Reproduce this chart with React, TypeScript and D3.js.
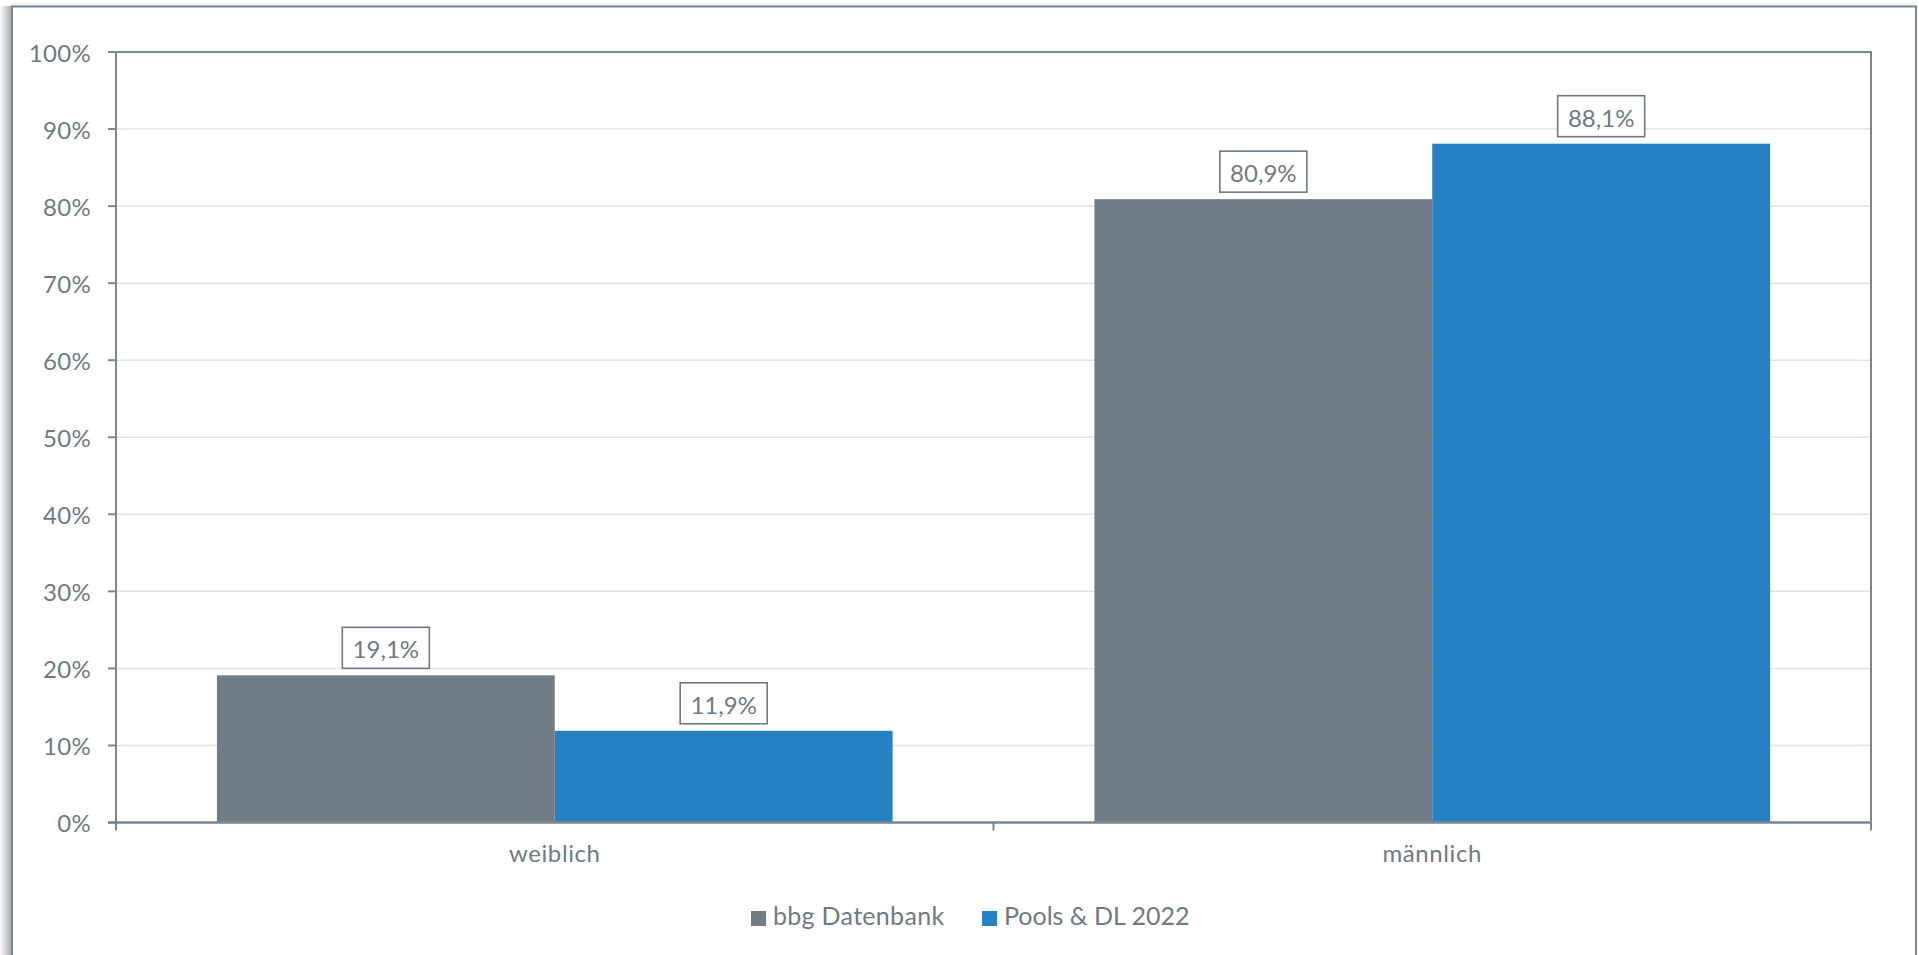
import React from "react";
import * as d3 from "d3";

const categories = ["weiblich", "männlich"];
const seriesNames = ["bbg Datenbank", "Pools & DL 2022"];
const seriesColors = ["#717d85", "#2580c4"];
const bbgValues = [19.1, 80.9];
const poolsValues = [11.9, 88.1];
const yTicks = [0, 10, 20, 30, 40, 50, 60, 70, 80, 90, 100];

const W = 1919;
const H = 955;
const PLOT = { left: 116, right: 1871, top: 52, bottom: 822.5 };
const TEXT = "#6e7b84";
const AXIS = "#7b878f";
const GRID = "#dfe5e6";
const FONT = "Lato, 'Open Sans', sans-serif";

const fmt = (v: number) => v.toFixed(1).replace(".", ",") + "%";

export default function App() {
  const x0 = d3
    .scaleBand<string>()
    .domain(categories)
    .range([PLOT.left, PLOT.right])
    .paddingInner(0.23)
    .paddingOuter(0.115);
  const x1 = d3
    .scaleBand<string>()
    .domain(seriesNames)
    .range([0, x0.bandwidth()]);
  const y = d3.scaleLinear().domain([0, 100]).range([PLOT.bottom, PLOT.top]);

  const series = [bbgValues, poolsValues];
  const step = x0.step();
  const xTickPositions = [PLOT.left, PLOT.left + step, PLOT.right];

  return (
    <svg
      width={W}
      height={H}
      style={{ position: "absolute", left: 0, top: 0, display: "block", background: "#fff" }}
      fontFamily={FONT}
    >
      <defs>
        <linearGradient id="shadowL" x1="0" x2="1" y1="0" y2="0">
          <stop offset="0" stopColor="#ffffff" />
          <stop offset="1" stopColor="#a9acae" />
        </linearGradient>
        <linearGradient id="shadowT" x1="0" x2="0" y1="0" y2="1">
          <stop offset="0" stopColor="#ffffff" />
          <stop offset="1" stopColor="#e4e6e7" />
        </linearGradient>
      </defs>
      <rect x={0} y={0} width={W} height={H} fill="#fff" />
      {/* outer card shadow + border */}
      <rect x={0} y={6} width={11} height={H - 6} fill="url(#shadowL)" />
      <rect x={11} y={2} width={W - 13} height={4} fill="url(#shadowT)" />
      <rect x={12} y={6.5} width={1904} height={H + 10} fill="#fff" stroke={AXIS} strokeWidth={2} />

      {/* gridlines */}
      {yTicks.map((t) => (
        <line
          key={"g" + t}
          x1={PLOT.left}
          x2={PLOT.right}
          y1={y(t)}
          y2={y(t)}
          stroke={GRID}
          strokeWidth={1.5}
        />
      ))}

      {/* bars */}
      {categories.map((c, ci) =>
        series.map((vals, si) => (
          <rect
            key={c + si}
            x={(x0(c) as number) + (x1(seriesNames[si]) as number)}
            y={y(vals[ci])}
            width={x1.bandwidth()}
            height={y(0) - y(vals[ci])}
            fill={seriesColors[si]}
          />
        ))
      )}

      {/* plot frame */}
      <line x1={PLOT.left} x2={PLOT.right} y1={PLOT.top} y2={PLOT.top} stroke={AXIS} strokeWidth={2} />
      <line x1={PLOT.left} x2={PLOT.left} y1={PLOT.top - 1} y2={PLOT.bottom} stroke={AXIS} strokeWidth={2} />
      <line x1={PLOT.right} x2={PLOT.right} y1={PLOT.top - 1} y2={PLOT.bottom} stroke={AXIS} strokeWidth={2} />
      <line x1={PLOT.left - 8} x2={PLOT.right + 1} y1={PLOT.bottom} y2={PLOT.bottom} stroke={AXIS} strokeWidth={2.4} />

      {/* y ticks */}
      {yTicks.map((t) => (
        <g key={"yt" + t}>
          <line x1={PLOT.left - 8} x2={PLOT.left} y1={y(t)} y2={y(t)} stroke={AXIS} strokeWidth={2} />
          <text
            x={91}
            y={y(t)}
            textAnchor="end"
            dominantBaseline="central"
            fontSize={24}
            letterSpacing={0.3}
            fill={TEXT}
          >
            {t + "%"}
          </text>
        </g>
      ))}

      {/* x ticks */}
      {xTickPositions.map((px, i) => (
        <line key={"xt" + i} x1={px} x2={px} y1={PLOT.bottom} y2={PLOT.bottom + 8} stroke={AXIS} strokeWidth={2} />
      ))}
      {categories.map((c) => (
        <text
          key={"xl" + c}
          x={(x0(c) as number) + x0.bandwidth() / 2}
          y={862}
          textAnchor="middle"
          fontSize={24}
          letterSpacing={0.6}
          fill={TEXT}
        >
          {c}
        </text>
      ))}

      {/* data labels */}
      {categories.map((c, ci) =>
        series.map((vals, si) => {
          const cx = (x0(c) as number) + (x1(seriesNames[si]) as number) + x1.bandwidth() / 2;
          const top = y(vals[ci]);
          const bw = 87;
          const bh = 41;
          const by = top - 7 - bh;
          return (
            <g key={"lab" + c + si}>
              <rect x={cx - bw / 2} y={by} width={bw} height={bh} fill="#fff" stroke={TEXT} strokeWidth={1.6} />
              <text x={cx} y={by + bh / 2 + 1} textAnchor="middle" dominantBaseline="central" fontSize={24} fill={TEXT}>
                {fmt(vals[ci])}
              </text>
            </g>
          );
        })
      )}

      {/* legend */}
      <g>
        <rect x={751} y={911} width={15} height={15} fill={seriesColors[0]} />
        <text x={773} y={925} fontSize={25} letterSpacing={0.3} fill={TEXT}>
          {seriesNames[0]}
        </text>
        <rect x={982} y={911} width={15} height={15} fill={seriesColors[1]} />
        <text x={1004} y={925} fontSize={25} fill={TEXT}>
          {seriesNames[1]}
        </text>
      </g>
    </svg>
  );
}
